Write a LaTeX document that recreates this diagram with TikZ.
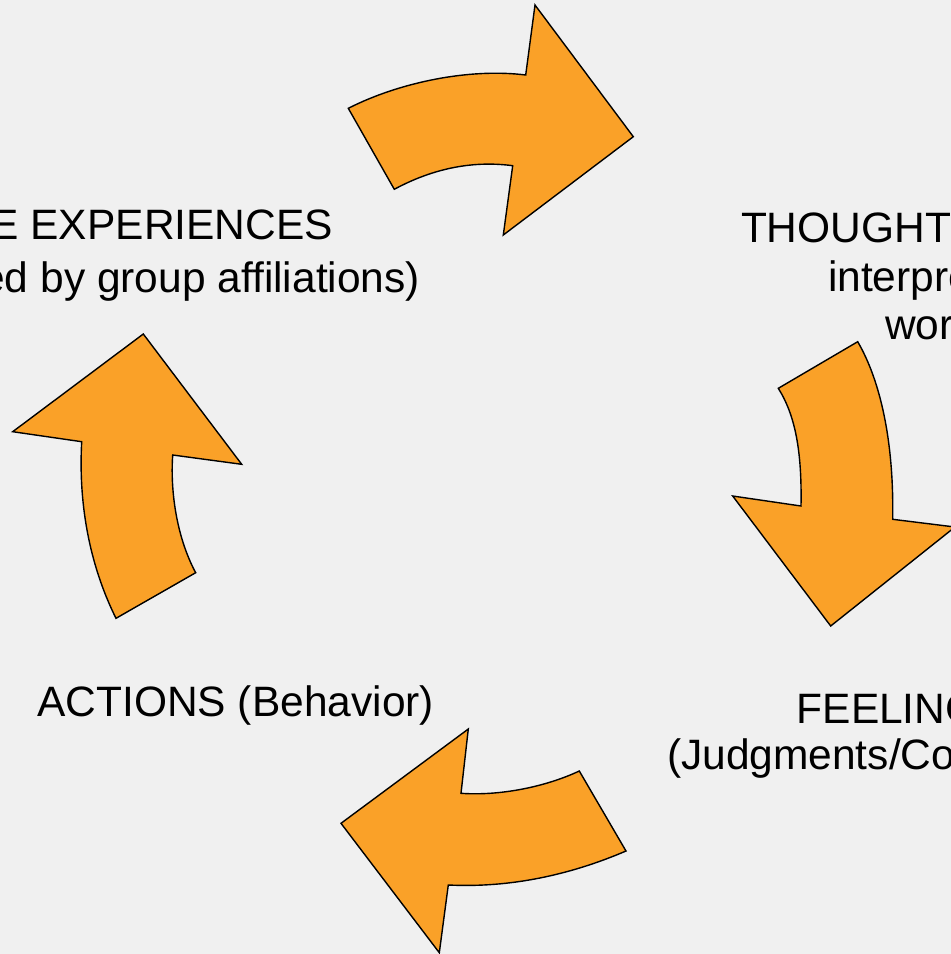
\documentclass[tikz,border=0pt]{standalone}
\usepackage{fontspec}
\setmainfont{Liberation Sans}
\definecolor{bgc}{RGB}{240,240,240}
\definecolor{arrowc}{RGB}{250,161,40}
\begin{document}
\begin{tikzpicture}[x=1pt,y=-1pt,
  bigarrow/.style={fill=arrowc,draw=black,line width=1.4pt,line join=miter},
  lbl/.style={inner sep=0pt,outer sep=0pt,font=\fontsize{42.5}{48}\selectfont,text=black}]
\fill[bgc] (0,0) rectangle (951,954);
\useasboundingbox (0,0) rectangle (951,954);
% top arrow (to the right)
\draw[bigarrow] (348.3,108.3) -- (394.3,189.3)
  .. controls (430,170) and (470,160) .. (512.7,165.7)
  -- (503.3,235) -- (633.3,136.7) -- (535,5) -- (525.7,75)
  .. controls (470,68) and (400,82) .. cycle;
% right arrow (downward)
\draw[bigarrow] (857.7,341.7) -- (778.3,388.3)
  .. controls (795,415) and (802,450) .. (801,506)
  -- (732.7,496) -- (830.7,626) -- (955,527) -- (892.7,519.3)
  .. controls (894,440) and (880,380) .. cycle;
% bottom arrow (to the left)
\draw[bigarrow] (579.3,771) -- (626,851)
  .. controls (570,875) and (510,888) .. (448.3,885)
  -- (439.3,952.7) -- (341,823.3) -- (468.3,729) -- (461,793.3)
  .. controls (500,796) and (545,787) .. cycle;
% left arrow (upward)
\draw[bigarrow] (143.3,334) -- (241.7,464.3) -- (172.7,455)
  .. controls (170,495) and (178,540) .. (195.7,572.7)
  -- (116,618.3)
  .. controls (92,570) and (78,510) .. (81.7,441.7)
  -- (12.7,431.7) -- cycle;
% labels
\node[lbl,anchor=base east] (exp1) at (333,239.3) {E EXPERIENCES};
\node[lbl,anchor=base east] (exp2) at (420,292.5) {ed by group affiliations)};
\node[lbl,anchor=base west] (th1) at (741,242.7) {THOUGHTS};
\node[lbl,anchor=base west] (th2) at (828,291) {interpre};
\node[lbl,anchor=base west] (th3) at (885,339) {wor};
\node[lbl,anchor=base west] (fe1) at (796.7,723.3) {FEELINGS};
\node[lbl,anchor=base west] (fe2) at (667,769.5) {(Judgments/Co};
\node[lbl,anchor=base west] (act) at (37.3,716.7) {ACTIONS (Behavior)};
\end{tikzpicture}
\end{document}
